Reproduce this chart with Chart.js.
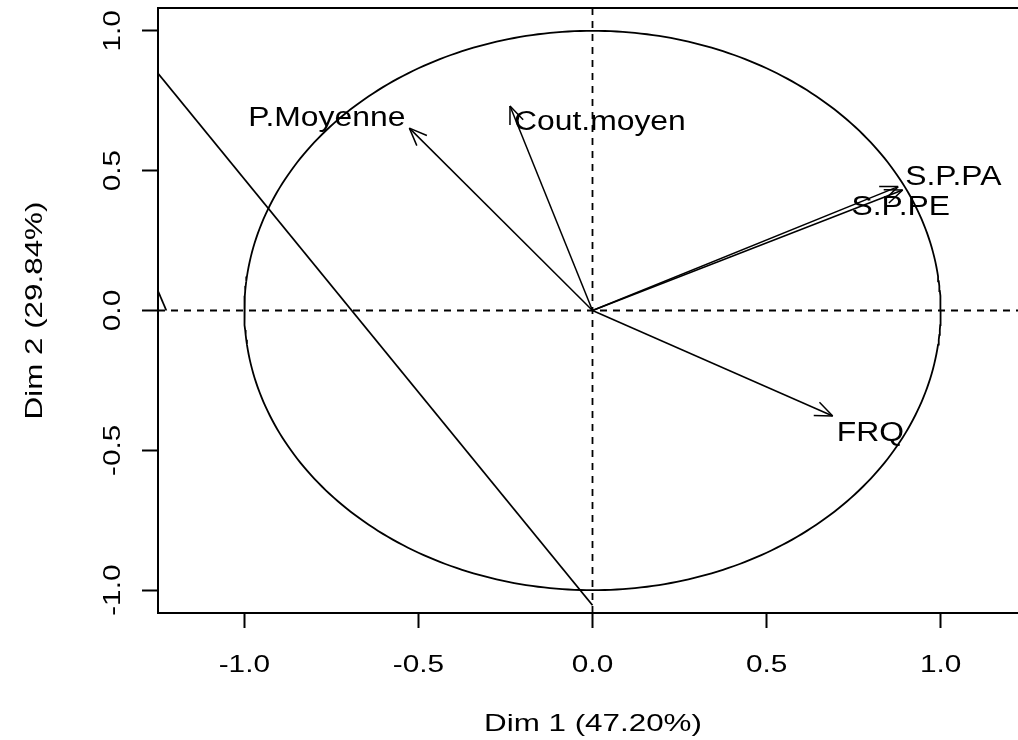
<!DOCTYPE html>
<html><head><meta charset="utf-8">
<script src="https://cdn.jsdelivr.net/npm/chart.js@4.4.0/dist/chart.umd.min.js"></script>
<style>html,body{margin:0;padding:0;background:#fff;overflow:hidden;width:1018px;height:740px}</style>
</head><body>
<canvas id="c" width="1040" height="740" style="display:block;width:1040px;height:740px"></canvas>
<script>
// ---- data ----
const varNames = ['P.Moyenne', 'Cout.moyen', 'S.P.PA', 'S.P.PE', 'FRQ'];
const dim1 = [-0.526, -0.237, 0.878, 0.891, 0.690];
const dim2 = [0.652, 0.731, 0.443, 0.431, -0.377];
const xTicks = [-1, -0.5, 0, 0.5, 1];
const xTickLabels = ['-1.0', '-0.5', '0.0', '0.5', '1.0'];
const yTicks = [-1, -0.5, 0, 0.5, 1];
const yTickLabels = ['-1.0', '-0.5', '0.0', '0.5', '1.0'];
const xTitle = 'Dim 1 (47.20%)';
const yTitle = 'Dim 2 (29.84%)';
const diagLineX = [-1.30, 0];
const diagLineY = [0.927, -1.054];
const shortSegX = [-1.26, -1.224];
const shortSegY = [0.105, 0.0];
const xRange = [-1.248, 1.248];
const yRange = [-1.0816, 1.0816];
const circleSteps = 360;

// ---- build ----
const circlePts = [];
for (let i = 0; i <= circleSteps; i++) {
  const a = 2 * Math.PI * i / circleSteps;
  circlePts.push({x: Math.cos(a), y: Math.sin(a)});
}
const line = (data, extra) => Object.assign({data, showLine: true, pointRadius: 0, borderColor: '#000', borderWidth: 2, fill: false, clip: 0, tension: 0}, extra || {});
const datasets = [
  line(circlePts, {borderWidth: 1.8}),
  line([{x: xRange[0], y: 0}, {x: xRange[1], y: 0}], {borderDash: [7, 6], borderWidth: 1.8}),
  line([{x: 0, y: yRange[0]}, {x: 0, y: yRange[1]}], {borderDash: [7, 6], borderWidth: 1.8}),
  line(diagLineX.map((x, i) => ({x, y: diagLineY[i]})), {borderWidth: 1.8}),
  line(shortSegX.map((x, i) => ({x, y: shortSegY[i]})), {borderWidth: 1.8}),
];
varNames.forEach((n, i) => datasets.push(line([{x: 0, y: 0}, {x: dim1[i], y: dim2[i]}], {borderWidth: 1.5})));

const FONT = '"Liberation Sans", Arial, Helvetica, sans-serif';
function sText(ctx, text, x, y, size, k, align, rot) {
  ctx.save();
  ctx.translate(x, y);
  if (rot) ctx.rotate(-Math.PI / 2);
  ctx.scale(k, 1);
  ctx.font = size + 'px ' + FONT;
  ctx.textAlign = align;
  ctx.textBaseline = 'alphabetic';
  ctx.fillStyle = '#000';
  ctx.fillText(text, 0, 0);
  ctx.restore();
}
// label placement relative to arrow tip (pixels)
const labelLayout = [
  {align: 'right', dx: -4, dy: -2},
  {align: 'left', dx: 4, dy: 24},
  {align: 'left', dx: 7, dy: -1.5},
  {align: 'center', dx: -2, dy: 25},
  {align: 'left', dx: 4, dy: 25},
];

const decor = {
  id: 'decor',
  afterDraw(chart) {
    const ctx = chart.ctx, xs = chart.scales.x, ys = chart.scales.y, a = chart.chartArea;
    ctx.save();
    ctx.strokeStyle = '#000';
    ctx.lineWidth = 2;
    ctx.strokeRect(a.left, a.top, a.right - a.left, a.bottom - a.top);
    // arrowheads
    const ox = xs.getPixelForValue(0), oy = ys.getPixelForValue(0);
    ctx.lineWidth = 1.5;
    varNames.forEach((n, i) => {
      const px = xs.getPixelForValue(dim1[i]), py = ys.getPixelForValue(dim2[i]);
      const ang = Math.atan2(py - oy, px - ox);
      const L = 19, h = 22 * Math.PI / 180;
      ctx.beginPath();
      [-1, 1].forEach(s => {
        const b = ang + Math.PI + s * h;
        ctx.moveTo(px, py);
        ctx.lineTo(px + L * Math.cos(b), py + L * Math.sin(b));
      });
      ctx.stroke();
      const lay = labelLayout[i];
      sText(ctx, n, px + lay.dx, py + lay.dy, 27, 1.18, lay.align, false);
    });
    // tick labels
    xTicks.forEach((v, i) => sText(ctx, xTickLabels[i], xs.getPixelForValue(v), 672, 24, 1.24, 'center', false));
    yTicks.forEach((v, i) => sText(ctx, yTickLabels[i], 120, ys.getPixelForValue(v), 24, 1.24, 'center', true));
    // axis titles
    sText(ctx, xTitle, 593, 731, 24.5, 1.28, 'center', false);
    sText(ctx, yTitle, 42, (a.top + a.bottom) / 2, 24.5, 1.28, 'center', true);
    ctx.restore();
  }
};

new Chart(document.getElementById('c'), {
  type: 'scatter',
  data: {datasets},
  options: {
    responsive: false,
    devicePixelRatio: 1,
    animation: false,
    layout: {padding: {top: 8, right: 13, left: 0, bottom: 0}},
    plugins: {legend: {display: false}, tooltip: {enabled: false}},
    scales: {
      x: {
        type: 'linear', min: xRange[0], max: xRange[1],
        afterBuildTicks: s => { s.ticks = xTicks.map(v => ({value: v})); },
        afterFit: s => { s.height = 127; },
        ticks: {display: false},
        grid: {drawOnChartArea: false, drawTicks: true, tickLength: 15, tickWidth: 2, tickColor: '#000', color: '#000'},
        border: {display: false}
      },
      y: {
        type: 'linear', min: yRange[0], max: yRange[1],
        afterBuildTicks: s => { s.ticks = yTicks.map(v => ({value: v})); },
        afterFit: s => { s.width = 158; },
        ticks: {display: false},
        grid: {drawOnChartArea: false, drawTicks: true, tickLength: 16, tickWidth: 2, tickColor: '#000', color: '#000'},
        border: {display: false}
      }
    }
  },
  plugins: [decor]
});
</script>
</body></html>
